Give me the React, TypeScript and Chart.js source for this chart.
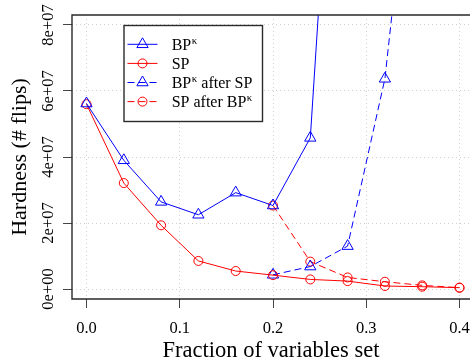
import React, { useEffect, useRef } from "react";
import { Chart, registerables } from "chart.js";

Chart.register(...registerables);

// ---- data ----
const fractions = [0, 0.04, 0.08, 0.12, 0.16, 0.2, 0.24, 0.28, 0.32, 0.36, 0.4];
const bpKappa = [5.62e7, 3.9e7, 2.64e7, 2.25e7, 2.92e7, 2.53e7, 4.58e7, 2.2e8];
const sp = [5.6e7, 3.21e7, 1.93e7, 8.5e6, 5.45e6, 4.2e6, 2.9e6, 2.4e6, 9e5, 7e5, 4e5];
const afterStartIndex = 5; // both "after" series start at fraction 0.20
const bpAfterSp = [4.3e6, 6.8e6, 1.3e7, 6.37e7, 1.67e8];
const spAfterBp = [2.53e7, 8.3e6, 3.5e6, 2.2e6, 1.1e6, 4e5];

const xTicks = [0, 0.1, 0.2, 0.3, 0.4];
const xTickLabels = ["0.0", "0.1", "0.2", "0.3", "0.4"];
const yTicks = [0, 2e7, 4e7, 6e7, 8e7];
const yTickLabels = ["0e+00", "2e+07", "4e+07", "6e+07", "8e+07"];

const seriesNames = ["BPκ", "SP", "BPκ after SP", "SP after BPκ"];
const legendMain = ["BP", "SP", "BP", "SP after BP"];
const legendSup = ["κ", "", "κ", "κ"];
const legendTail = ["", "", " after SP", ""];

const FONT = '"Liberation Serif", "Times New Roman", serif';
const BLUE = "#0000ff";
const RED = "#ff0000";

const toPoints = (vals: number[], start: number) =>
  vals.map((v, i) => ({ x: fractions[start + i], y: v }));

const seriesStyles = [
  { color: BLUE, style: "triangle", r: 6.5, dash: [] as number[] },
  { color: RED, style: "circle", r: 4.5, dash: [] as number[] },
  { color: BLUE, style: "triangle", r: 6.5, dash: [7, 4] },
  { color: RED, style: "circle", r: 4.5, dash: [7, 4] },
];

function drawMarker(ctx: CanvasRenderingContext2D, style: string, x: number, y: number, r: number) {
  ctx.beginPath();
  if (style === "triangle") {
    let rad = 0;
    ctx.moveTo(x + Math.sin(rad) * r, y - Math.cos(rad) * r);
    rad += (2 * Math.PI) / 3;
    ctx.lineTo(x + Math.sin(rad) * r, y - Math.cos(rad) * r);
    rad += (2 * Math.PI) / 3;
    ctx.lineTo(x + Math.sin(rad) * r, y - Math.cos(rad) * r);
    ctx.closePath();
  } else {
    ctx.arc(x, y, r, 0, Math.PI * 2);
  }
  ctx.stroke();
}

const decorPlugin = {
  id: "decor",
  afterDraw(chart: any) {
    const ctx: CanvasRenderingContext2D = chart.ctx;
    const area = chart.chartArea;
    const ys = chart.scales.y;

    // frame (the right side lies beyond the picture)
    ctx.save();
    ctx.strokeStyle = "#2a2a2a";
    ctx.lineWidth = 1.4;
    ctx.beginPath();
    ctx.moveTo(area.right + 2, area.top);
    ctx.lineTo(area.left, area.top);
    ctx.lineTo(area.left, area.bottom);
    ctx.lineTo(area.right + 2, area.bottom);
    ctx.stroke();
    ctx.restore();

    // rotated y tick labels
    ctx.save();
    ctx.font = `16.5px ${FONT}`;
    ctx.fillStyle = "#000";
    ctx.textAlign = "center";
    ctx.textBaseline = "alphabetic";
    ys.ticks.forEach((t: any, i: number) => {
      const py = ys.getPixelForValue(t.value);
      ctx.save();
      ctx.translate(ys.right - 19.5, py);
      ctx.rotate(-Math.PI / 2);
      ctx.fillText(yTickLabels[i], 0, 0);
      ctx.restore();
    });
    ctx.restore();

    // legend
    const bx = 124, by = 25.5, bw = 138.5, bh = 96;
    ctx.save();
    ctx.fillStyle = "#fff";
    ctx.fillRect(bx, by, bw, bh);
    ctx.strokeStyle = "#2a2a2a";
    ctx.lineWidth = 1.4;
    ctx.strokeRect(bx, by, bw, bh);
    for (let i = 0; i < seriesNames.length; i++) {
      const cy = 44.3 + i * 19.1;
      const s = seriesStyles[i];
      ctx.strokeStyle = s.color;
      ctx.lineWidth = 1;
      ctx.setLineDash(s.dash);
      ctx.beginPath();
      ctx.moveTo(127.5, cy);
      ctx.lineTo(157.5, cy);
      ctx.stroke();
      ctx.setLineDash([]);
      drawMarker(ctx, s.style, 142.5, cy, s.r);
      ctx.fillStyle = "#000";
      ctx.textAlign = "left";
      ctx.textBaseline = "alphabetic";
      ctx.font = `16px ${FONT}`;
      let tx = 171.7;
      const base = cy + 5.2;
      ctx.fillText(legendMain[i], tx, base);
      tx += ctx.measureText(legendMain[i]).width;
      if (legendSup[i]) {
        ctx.font = `11px ${FONT}`;
        ctx.fillText(legendSup[i], tx + 0.5, base - 6);
        tx += ctx.measureText(legendSup[i]).width + 0.5;
        ctx.font = `16px ${FONT}`;
      }
      if (legendTail[i]) ctx.fillText(legendTail[i], tx, base);
    }
    ctx.restore();
  },
};

export default function App() {
  const ref = useRef<HTMLCanvasElement | null>(null);

  useEffect(() => {
    if (!ref.current) return;
    const data = [
      toPoints(bpKappa, 0),
      toPoints(sp, 0),
      toPoints(bpAfterSp, afterStartIndex),
      toPoints(spAfterBp, afterStartIndex),
    ];
    const grid = {
      color: "#d0d0d0",
      lineWidth: 1,
      drawTicks: true,
      tickLength: 9,
      tickColor: "#444",
      tickWidth: 1,
    };
    const chart = new Chart(ref.current, {
      type: "line",
      data: {
        datasets: data.map((pts, i) => ({
          label: seriesNames[i],
          data: pts,
          borderColor: seriesStyles[i].color,
          borderWidth: 1,
          borderDash: seriesStyles[i].dash,
          pointStyle: seriesStyles[i].style,
          pointRadius: seriesStyles[i].r,
          pointBorderColor: seriesStyles[i].color,
          pointBackgroundColor: "rgba(0,0,0,0)",
          pointBorderWidth: 1,
          fill: false,
          tension: 0,
        })),
      },
      options: {
        animation: false,
        responsive: false,
        events: [],
        layout: { autoPadding: false, padding: { top: 15, right: 0, left: 0, bottom: 0 } },
        plugins: { legend: { display: false }, tooltip: { enabled: false } },
        scales: {
          x: {
            type: "linear",
            bounds: "data",
            min: -0.01555,
            max: 0.41126,
            afterBuildTicks: (s: any) => {
              s.ticks = xTicks.map((v) => ({ value: v }));
            },
            afterFit: (s: any) => {
              s.height = 63;
              s.paddingLeft = 0;
              s.paddingRight = 0;
            },
            grid,
            border: { display: false, dash: [1, 3] },
            ticks: {
              font: { family: FONT, size: 16.5 },
              color: "#000",
              padding: 11,
              maxRotation: 0,
              autoSkip: false,
              callback: (_v: any, i: number) => xTickLabels[i],
            },
            title: {
              display: true,
              text: "Fraction of variables set",
              color: "#000",
              font: { family: FONT, size: 22.5, lineHeight: 1 },
              padding: { top: 0, bottom: 0 },
            },
          },
          y: {
            type: "linear",
            bounds: "data",
            min: -3.03e6,
            max: 8.303e7,
            afterBuildTicks: (s: any) => {
              s.ticks = yTicks.map((v) => ({ value: v }));
            },
            afterFit: (s: any) => {
              s.width = 72;
              s.paddingTop = 0;
              s.paddingBottom = 0;
            },
            grid,
            border: { display: false, dash: [1, 3] },
            ticks: { display: false },
            title: {
              display: true,
              text: "Hardness (# flips)",
              color: "#000",
              font: { family: FONT, size: 22, lineHeight: 1 },
              padding: { top: 9, bottom: 0 },
            },
          },
        },
      },
      plugins: [decorPlugin],
    } as any);
    return () => chart.destroy();
  }, []);

  return (
    <div
      style={{
        position: "absolute",
        left: 0,
        top: 0,
        width: 470,
        height: 362,
        overflow: "hidden",
        background: "#fff",
      }}
    >
      <canvas ref={ref} width={470} height={362} style={{ display: "block", width: 470, height: 362 }} />
    </div>
  );
}
